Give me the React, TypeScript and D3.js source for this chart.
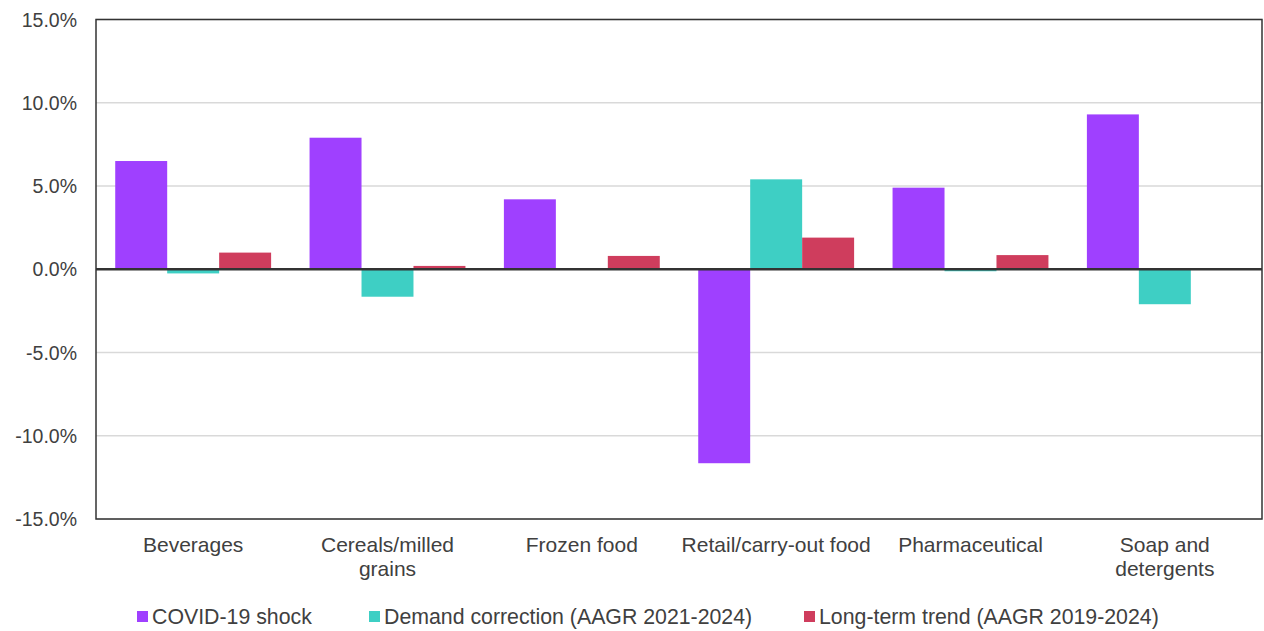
import React, { useEffect, useRef } from "react";
import * as d3 from "d3";

const categories = [
  "Beverages",
  "Cereals/milled grains",
  "Frozen food",
  "Retail/carry-out food",
  "Pharmaceutical",
  "Soap and detergents",
];
const categoryLines = [
  ["Beverages"],
  ["Cereals/milled", "grains"],
  ["Frozen food"],
  ["Retail/carry-out food"],
  ["Pharmaceutical"],
  ["Soap and", "detergents"],
];

const seriesNames = [
  "COVID-19 shock",
  "Demand correction (AAGR 2021-2024)",
  "Long-term trend (AAGR 2019-2024)",
];
const seriesColors = ["#9F40FF", "#3ECFC4", "#CF3D5D"];

const covidShock = [6.5, 7.9, 4.2, -11.65, 4.9, 9.3];
const demandCorrection = [-0.25, -1.65, 0, 5.4, -0.12, -2.1];
const longTermTrend = [1.0, 0.2, 0.8, 1.9, 0.85, 0.03];

const yTicks = [-15, -10, -5, 0, 5, 10, 15];

export default function App() {
  const ref = useRef<SVGSVGElement>(null);

  useEffect(() => {
    if (!ref.current) return;
    const width = 1264;
    const height = 631;
    const margin = { top: 19.5, right: 2, bottom: 112, left: 96 };
    const svg = d3.select(ref.current);
    svg.selectAll("*").remove();

    const font = "'Liberation Sans', Arial, sans-serif";
    const series = [covidShock, demandCorrection, longTermTrend];

    const x = d3
      .scaleBand()
      .domain(categories)
      .range([margin.left, width - margin.right])
      .paddingInner(0)
      .paddingOuter(0);
    const inner = d3
      .scaleBand()
      .domain(seriesNames)
      .range([0, x.bandwidth()])
      .paddingOuter(0.37)
      .paddingInner(0);
    const y = d3
      .scaleLinear()
      .domain([-15, 15])
      .range([height - margin.bottom, margin.top]);

    // Grid
    svg
      .append("g")
      .selectAll("line")
      .data(yTicks)
      .enter()
      .append("line")
      .attr("x1", margin.left)
      .attr("x2", width - margin.right)
      .attr("y1", (d) => y(d))
      .attr("y2", (d) => y(d))
      .attr("stroke", "#d9d9d9")
      .attr("stroke-width", 1.3);

    // Bars
    seriesNames.forEach((name, si) => {
      svg
        .append("g")
        .selectAll("rect")
        .data(series[si])
        .enter()
        .append("rect")
        .attr("x", (_, i) => (x(categories[i]) || 0) + (inner(name) || 0))
        .attr("y", (d) => y(Math.max(0, d)))
        .attr("width", inner.bandwidth())
        .attr("height", (d) => Math.abs(y(d) - y(0)))
        .attr("fill", seriesColors[si]);
    });

    // Frame
    svg
      .append("rect")
      .attr("x", margin.left)
      .attr("y", margin.top)
      .attr("width", width - margin.right - margin.left)
      .attr("height", y(-15) - y(15))
      .attr("fill", "none")
      .attr("stroke", "#333")
      .attr("stroke-width", 1.5);

    // Zero line
    svg
      .append("line")
      .attr("x1", margin.left)
      .attr("x2", width - margin.right)
      .attr("y1", y(0))
      .attr("y2", y(0))
      .attr("stroke", "#333")
      .attr("stroke-width", 2.5);

    // Y labels
    svg
      .append("g")
      .selectAll("text")
      .data(yTicks)
      .enter()
      .append("text")
      .attr("x", 77)
      .attr("y", (d) => y(d) + 7)
      .attr("text-anchor", "end")
      .attr("font-family", font)
      .attr("font-size", 19.5)
      .attr("fill", "#404040")
      .text((d) => d.toFixed(1) + "%");

    // X labels
    categories.forEach((c, i) => {
      const t = svg
        .append("text")
        .attr("x", (x(c) || 0) + x.bandwidth() / 2)
        .attr("y", 552)
        .attr("text-anchor", "middle")
        .attr("font-family", font)
        .attr("font-size", 21)
        .attr("fill", "#404040");
      categoryLines[i].forEach((line, li) => {
        t.append("tspan")
          .attr("x", (x(c) || 0) + x.bandwidth() / 2)
          .attr("dy", li === 0 ? 0 : 24)
          .text(line);
      });
    });

    // Legend
    const legendX = [137, 369, 804];
    seriesNames.forEach((name, i) => {
      const g = svg.append("g").attr("transform", `translate(${legendX[i]},617)`);
      g.append("rect")
        .attr("x", 0)
        .attr("y", -6)
        .attr("width", 11)
        .attr("height", 11)
        .attr("fill", seriesColors[i]);
      g.append("text")
        .attr("x", 15)
        .attr("y", 7)
        .attr("font-family", font)
        .attr("font-size", 21.3)
        .attr("fill", "#404040")
        .text(name);
    });
  }, []);

  return (
    <div style={{ position: "absolute", left: 0, top: 0, background: "#fff" }}>
      <svg ref={ref} width={1264} height={631} style={{ display: "block" }} />
    </div>
  );
}
